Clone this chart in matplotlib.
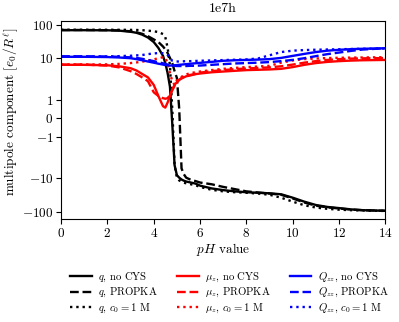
import numpy as np
import matplotlib
matplotlib.use('Agg')
import matplotlib.pyplot as plt

plt.rcParams['font.family'] = 'serif'
plt.rcParams['font.serif'] = ['cmr10', 'DejaVu Serif']
plt.rcParams['mathtext.fontset'] = 'cm'
plt.rcParams['axes.formatter.use_mathtext'] = True

# pH grid shared by all curves
ph = [0, 1, 2, 2.5, 3, 3.25, 3.5, 3.75, 4.0, 4.2, 4.4, 4.5, 4.6, 4.7, 4.8, 4.9,
      5.0, 5.1, 5.2, 5.3, 5.4, 5.6, 5.8, 6.0, 6.5, 7, 7.5, 8, 8.5, 9, 9.5, 10,
      10.5, 11, 11.5, 12, 12.5, 13, 14]

# monopole q
q_nocys = [68, 68, 67.5, 66, 61, 57, 50, 41, 30, 20, 11.5, 7, 3.5, 1.7, -0.3, -4,
           -8, -9.5, -10.8, -11.7, -12.4, -13.3, -14.3, -16.5, -20, -22.5, -24.5, -26, -27, -28, -30, -38,
           -50, -63, -72, -78, -85, -90, -94]
q_propka = [69, 69, 68, 67, 63, 59, 53, 45, 36, 30, 22, 18, 14, 10, 7, 4,
            2.5, 0.5, -5, -7.5, -9.5, -11, -12, -13.3, -15, -18, -21, -24.5, -26.5, -28.5, -31, -40,
            -53, -66, -74, -80, -86, -90, -94]
q_c0 = [70, 70, 70, 70, 69.5, 69, 68, 66, 63, 60, 52, 42, 20, 6, 0.5, -4,
        -9.5, -11.5, -12.5, -13.5, -14, -15, -16, -18, -22, -24.5, -26, -27, -28.5, -31, -38, -50,
        -64, -75, -82, -87, -90, -92, -95]

# dipole mu_z
mu_nocys = [6.2, 6.2, 6.0, 5.6, 4.9, 4.2, 3.3, 2.6, 1.8, 1.2, 0.65, 0.57, 0.85, 1.2, 1.55, 1.8,
            1.95, 2.2, 2.4, 2.6, 2.8, 3.0, 3.25, 3.4, 3.7, 3.9, 4.1, 4.3, 4.4, 4.5, 4.7, 5.3,
            6.2, 7.0, 7.6, 8.0, 8.3, 8.5, 8.7]
mu_propka = [6.3, 6.3, 5.9, 5.2, 4.0, 3.3, 2.6, 2.0, 1.4, 1.2, 1.08, 1.05, 1.08, 1.25, 1.5, 1.75,
             1.95, 2.2, 2.5, 2.7, 2.9, 3.1, 3.3, 3.6, 4.0, 4.3, 4.6, 4.8, 5.0, 5.2, 5.6, 6.3,
             7.2, 8.0, 8.7, 9.2, 9.5, 9.7, 9.9]
mu_c0 = [6.3, 6.3, 6.4, 6.6, 7.0, 7.3, 7.7, 8.3, 9.0, 9.8, 10.5, 10.0, 7.0, 3.5, 2.0, 1.8,
         2.1, 2.4, 2.7, 3.0, 3.2, 3.5, 3.7, 3.9, 4.3, 4.7, 5.0, 5.3, 5.5, 5.8, 7.2, 8.4,
         9.2, 9.6, 9.9, 10.1, 10.2, 10.3, 10.5]

# quadrupole Q_zz
Q_nocys = [10.8, 10.8, 10.6, 10.3, 9.8, 9.2, 8.5, 7.8, 7.2, 6.7, 6.3, 6.1, 6.0, 5.9, 5.9, 6.0,
           6.1, 6.2, 6.3, 6.4, 6.5, 6.7, 6.9, 7.1, 7.6, 8.2, 8.5, 8.7, 8.9, 9.2, 10.0, 11.5,
           13.2, 15.0, 16.5, 17.5, 18.3, 18.8, 19.5]
Q_propka = [11.2, 11.2, 11.0, 10.8, 10.4, 10.0, 9.4, 8.7, 8.0, 7.4, 6.9, 6.6, 6.3, 6.1, 5.9, 5.8,
            5.7, 5.7, 5.7, 5.7, 5.7, 5.8, 5.8, 5.9, 6.2, 6.5, 6.8, 7.0, 7.2, 7.5, 8.0, 8.7,
            9.8, 11.3, 13.0, 14.5, 16.2, 17.8, 19.5]
Q_c0 = [10.8, 10.8, 11.0, 11.3, 11.6, 11.9, 12.2, 13.0, 13.6, 14.0, 13.8, 13.2, 12.2, 10.0, 8.2, 7.8,
        7.8, 7.8, 7.9, 7.9, 8.0, 8.0, 8.1, 8.2, 8.4, 8.6, 8.8, 9.0, 9.6, 12.0, 15.0, 16.5,
        17.2, 17.6, 17.9, 18.2, 18.5, 18.8, 19.2]

yticks = [-100, -10, -1, 0, 1, 10, 100]
ytick_labels = [r'$-100$', r'$-10$', r'$-1$', r'$0$', r'$1$', r'$10$', r'$100$']
xticks = [0, 2, 4, 6, 8, 10, 12, 14]

fig = plt.figure(figsize=(3.99, 3.22), dpi=100)
ax = fig.add_axes([0.153, 0.319, 0.813, 0.617])

series = [
    (q_nocys, 'k', '-', r'$q$, no CYS'),
    (q_propka, 'k', '--', r'$q$, PROPKA'),
    (q_c0, 'k', ':', r'$q$, $c_0 = 1$ M'),
    (mu_nocys, 'r', '-', r'$\mu_z$, no CYS'),
    (mu_propka, 'r', '--', r'$\mu_z$, PROPKA'),
    (mu_c0, 'r', ':', r'$\mu_z$, $c_0 = 1$ M'),
    (Q_nocys, 'b', '-', r'$Q_{zz}$, no CYS'),
    (Q_propka, 'b', '--', r'$Q_{zz}$, PROPKA'),
    (Q_c0, 'b', ':', r'$Q_{zz}$, $c_0 = 1$ M'),
]
for vals, c, ls, lab in series:
    ax.plot(ph, vals, color=c, linestyle=ls, linewidth=1.7, label=lab)

ax.set_yscale('symlog', linthresh=2)
ax.set_ylim(-169, 132)
ax.set_xlim(0, 14)
ax.set_yticks(yticks, labels=ytick_labels)
ax.set_xticks(xticks, labels=[r'$%d$' % t for t in xticks])
ax.minorticks_off()
ax.tick_params(labelsize=9.5, length=3.5, pad=2)

ax.set_xlabel(r'$pH$ value', fontsize=9.5, labelpad=1)
ax.set_ylabel(r'multipole component $[e_0/R^\ell]$', fontsize=9.5)
ax.yaxis.set_label_coords(-0.125, 0.54)
ax.set_title('1e7h', fontsize=10)

ax.legend(loc='upper center', bbox_to_anchor=(0.52, -0.21), ncol=3, frameon=False,
          fontsize=7.7, handlelength=2.0, handletextpad=0.6, labelspacing=0.2,
          columnspacing=1.8)

fig.savefig('out.png', dpi=100)
